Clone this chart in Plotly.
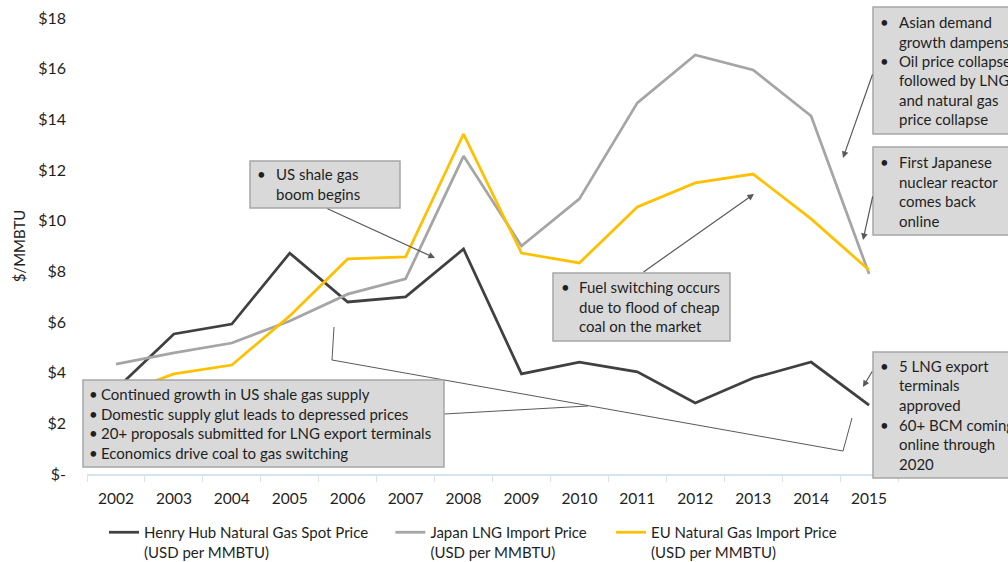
import plotly.graph_objects as go

years = [str(y) for y in range(2002, 2016)]
henry_hub = [3.35, 5.53, 5.92, 8.72, 6.79, 6.99, 8.88, 3.95, 4.42, 4.03, 2.80, 3.79, 4.42, 2.72]
japan_lng = [4.34, 4.78, 5.17, 6.04, 7.10, 7.70, 12.55, 9.00, 10.86, 14.65, 16.54, 15.95, 14.13, 7.90]
eu_import = [3.10, 3.95, 4.30, 6.24, 8.49, 8.57, 13.42, 8.72, 8.33, 10.54, 11.49, 11.84, 10.07, 8.05]
y_ticks = [0, 2, 4, 6, 8, 10, 12, 14, 16, 18]
y_tick_text = ["$-", "$2", "$4", "$6", "$8", "$10", "$12", "$14", "$16", "$18"]
series_names = ["Henry Hub Natural Gas Spot Price", "Japan LNG Import Price",
                "EU Natural Gas Import Price"]
unit_label = "(USD per MMBTU)"

W, H = 1008, 562
L, R, T, B = 87, 898, 18, 474
FONT = "Lato"
TXT = "#1f1f1f"
PAD1 = "&nbsp;" * 4 + "&#8201;"
PAD2 = "&nbsp;" * 5


def px(xp):
    return (xp - L) / (R - L)


def py(yp):
    return (B - yp) / (B - T)


fig = go.Figure()
fig.add_trace(go.Scatter(x=years, y=henry_hub, mode="lines",
                         name=series_names[0] + PAD1 + "<br>" + unit_label,
                         line=dict(color="#404040", width=2.75)))
fig.add_trace(go.Scatter(x=years, y=japan_lng, mode="lines",
                         name=series_names[1] + PAD2 + "<br>" + unit_label,
                         line=dict(color="#a5a5a5", width=2.75)))
fig.add_trace(go.Scatter(x=years, y=eu_import, mode="lines",
                         name=series_names[2] + "<br>" + unit_label,
                         line=dict(color="#ffc000", width=2.75)))

shapes = []
annotations = []

# connector / bracket lines
def polyline(points, color="#595959", width=1):
    for (x0, y0), (x1, y1) in zip(points[:-1], points[1:]):
        shapes.append(dict(type="line", xref="paper", yref="paper",
                           x0=px(x0), y0=py(y0), x1=px(x1), y1=py(y1),
                           line=dict(color=color, width=width)))

polyline([(334, 327), (332, 360), (843, 451), (852, 418)])
polyline([(444, 414), (588, 406)])

# arrows
def arrow(tail, head):
    annotations.append(dict(xref="paper", yref="paper", x=px(head[0]), y=py(head[1]),
                            ax=tail[0] - head[0], ay=tail[1] - head[1],
                            axref="pixel", ayref="pixel", text="", showarrow=True,
                            arrowhead=2, arrowsize=1.1, arrowwidth=1.2,
                            arrowcolor="#595959"))

arrow((326, 208), (435, 258))
arrow((642, 273), (754, 194))
arrow((873, 73), (843, 158))
arrow((873, 195), (863, 240))
arrow((873, 370), (863, 387))

# boxes
def box(x0, y0, x1, y1):
    shapes.append(dict(type="rect", xref="paper", yref="paper",
                       x0=px(x0), y0=py(y0), x1=px(x1), y1=py(y1),
                       fillcolor="#d9d9d9", line=dict(color="#a6a6a6", width=1.5),
                       layer="above"))

def lines_text(xb, xt, ys, texts, bullets, size=15):
    for yv, t, b in zip(ys, texts, bullets):
        if b:
            annotations.append(dict(xref="paper", yref="paper", x=px(xb), y=py(yv),
                                    xanchor="left", yanchor="middle", text="•",
                                    showarrow=False, font=dict(family=FONT, size=size, color=TXT)))
        annotations.append(dict(xref="paper", yref="paper", x=px(xt), y=py(yv),
                                xanchor="left", yanchor="middle", text=t,
                                showarrow=False, font=dict(family=FONT, size=size, color=TXT)))

box(250, 161, 400, 208)
lines_text(255, 274, [174, 194], ["US shale gas", "boom begins"], [True, False])

box(83, 380, 444, 467)
lines_text(87, 99, [394, 414, 433, 453],
           ["Continued growth in US shale gas supply",
            "Domestic supply glut leads to depressed prices",
            "20+ proposals submitted for LNG export terminals",
            "Economics drive coal to gas switching"],
           [True, True, True, True])

box(553, 273, 730, 341)
lines_text(559, 577, [287, 307, 326],
           ["Fuel switching occurs", "due to flood of cheap", "coal on the market"],
           [True, False, False])

box(873, 7, 1020, 134)
lines_text(878, 897, [22, 42, 61, 80, 100, 119],
           ["Asian demand", "growth dampens", "Oil price collapse",
            "followed by LNG", "and natural gas", "price collapse"],
           [True, False, True, False, False, False])

box(873, 147, 1020, 235)
lines_text(878, 897, [162, 182, 201, 221],
           ["First Japanese", "nuclear reactor", "comes back", "online"],
           [True, False, False, False])

box(873, 352, 1020, 478)
lines_text(878, 897, [366, 385, 405, 425, 444, 464],
           ["5 LNG export", "terminals", "approved", "60+ BCM coming",
            "online through", "2020"],
           [True, False, False, True, False, False])

fig.update_layout(
    width=W, height=H,
    margin=dict(l=L, r=W - R, t=T, b=H - B, pad=0, autoexpand=False),
    paper_bgcolor="white", plot_bgcolor="white",
    font=dict(family=FONT, size=15, color=TXT),
    showlegend=True,
    legend=dict(orientation="h", x=px(104), xanchor="left", y=py(516), yanchor="top",
                font=dict(family=FONT, size=15, color=TXT), valign="top",
                bgcolor="rgba(0,0,0,0)", tracegroupgap=0),
    shapes=shapes,
    annotations=annotations,
    xaxis=dict(type="category", range=[-0.5, 13.5], tickson="boundaries",
               ticks="outside", ticklen=6, tickcolor="#d6e3f1", tickwidth=1,
               showline=True, linecolor="#d6e3f1", linewidth=1.5, automargin=False,
               showgrid=False, zeroline=False, ticklabelstandoff=10,
               tickfont=dict(family=FONT, size=15.5, color=TXT)),
    yaxis=dict(range=[0, 18], tickvals=y_ticks, ticktext=y_tick_text,
               showgrid=False, zeroline=False, showline=False, ticks="",
               ticklabelstandoff=20, automargin=False,
               tickfont=dict(family=FONT, size=16, color=TXT),
               title=dict(text="$/MMBTU", standoff=8,
                          font=dict(family=FONT, size=15, color=TXT))),
)

fig.write_html("out.html", config={"displayModeBar": False},
               post_script="document.body.style.margin='0';document.body.style.overflow='hidden';")
